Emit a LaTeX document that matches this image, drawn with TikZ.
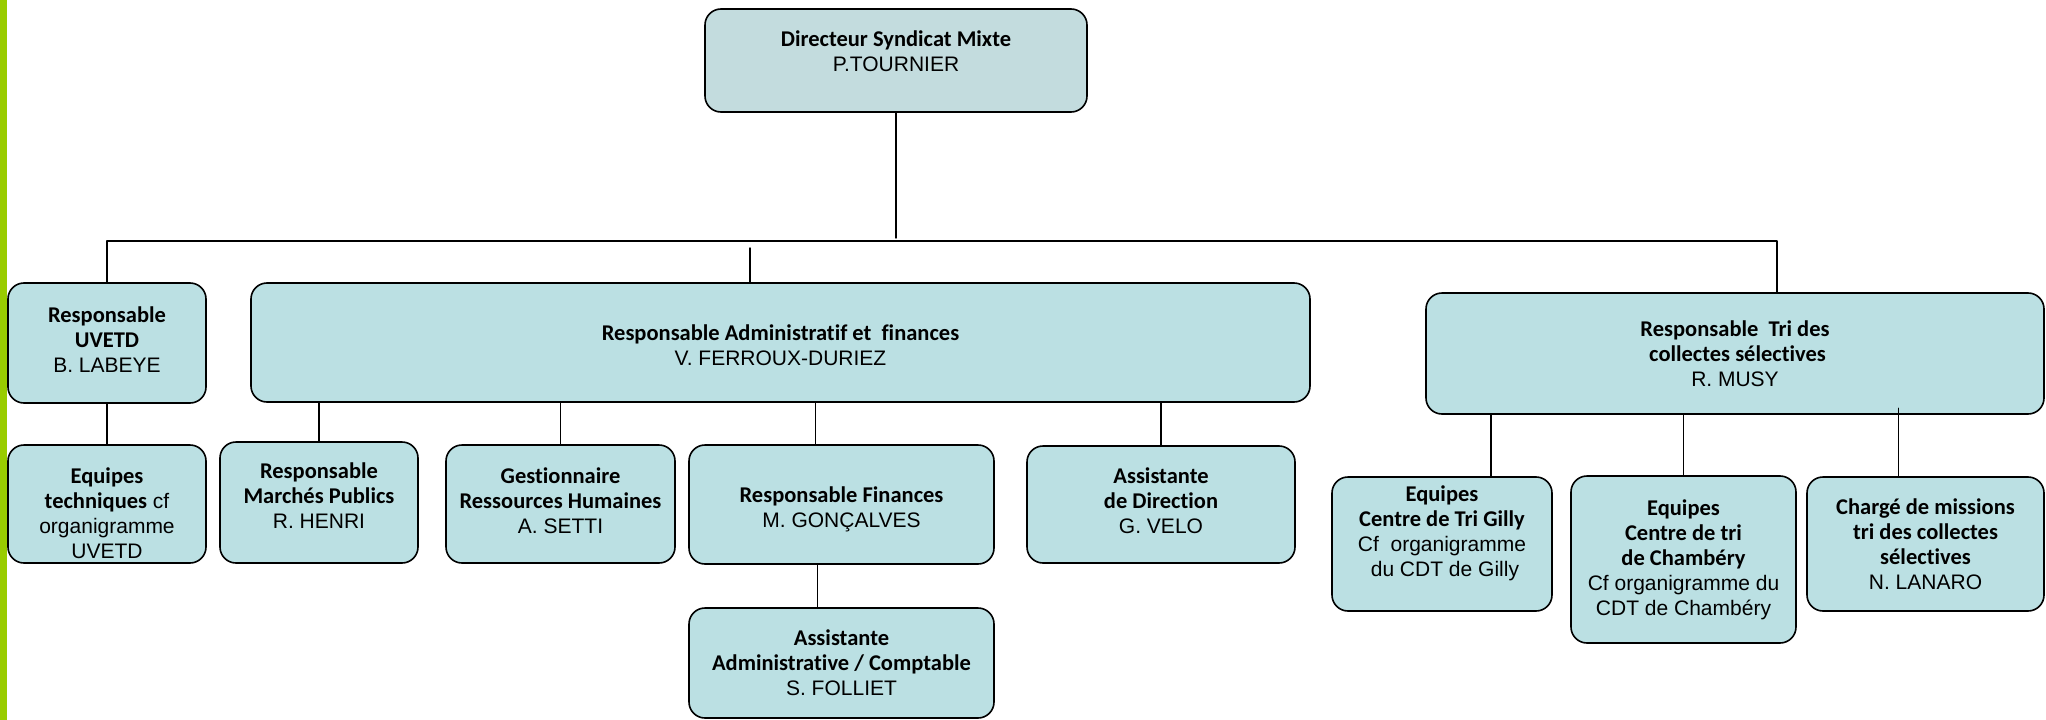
\documentclass[tikz,border=0pt]{standalone}
\usepackage{fontspec}
\setmainfont{Liberation Sans}
\newfontfamily\carlito[Ligatures=NoCommon]{Carlito}
\usetikzlibrary{positioning}
\definecolor{boxfill}{HTML}{BBE0E3}
\definecolor{topfill}{HTML}{C3DCDE}
\definecolor{barcol}{HTML}{99CC00}
\newcommand{\hd}[1]{{\carlito\bfseries\fontsize{22.5}{25}\selectfont #1}}

\begin{document}
\begin{tikzpicture}[x=1pt, y=-1pt, line cap=round, line join=round]
  % styles
  \tikzset{
    post/.style={draw, line width=1.6pt, rounded corners=16pt, fill=boxfill,
      align=center, inner sep=0pt, font=\fontsize{21}{25}\selectfont},
    link/.style={line width=1.4pt}
  }
  \useasboundingbox (0,0) rectangle (2046,720);
  \fill[barcol] (0,0) rectangle (7,720);

  % ----- top -----
  \node[post, fill=topfill, minimum width=382pt, minimum height=103pt] (dir) at (896,60.5)
    {\hd{Directeur Syndicat Mixte}\\P.TOURNIER\\[-6pt]\mbox{}};

  % ----- second level -----
  \node[post, minimum width=198pt, minimum height=120pt] (uvetd) at (107,343)
    {\hd{Responsable}\\\hd{UVETD}\\B. LABEYE\\[-19pt]\mbox{}};
  \node[post, minimum width=1059pt, minimum height=119pt] (admin) at (780.5,342.5)
    {\mbox{}\\[-4.5pt]\hd{Responsable Administratif et\ \ finances}\\V. FERROUX-DURIEZ};
  \node[post, minimum width=618pt, minimum height=121pt] (tri) at (1735,353.5)
    {\hd{Responsable\ \ Tri des}\\\hd{\ collectes s\'electives}\\R. MUSY};

  % ----- third level -----
  \node[post, minimum width=198pt, minimum height=118pt] (eqtech) at (107,504)
    {\mbox{}\\[8.5pt]\hd{Equipes}\\\hd{techniques} cf\\organigramme\\UVETD};
  \node[post, minimum width=198pt, minimum height=121pt] (marches) at (319,502.5)
    {\hd{Responsable}\\\hd{March\'es Publics}\\R. HENRI\\[-12pt]\mbox{}};
  \node[post, minimum width=229pt, minimum height=118pt] (rh) at (560.5,504)
    {\hd{Gestionnaire}\\\hd{Ressources Humaines}\\A. SETTI\\[-19pt]\mbox{}};
  \node[post, minimum width=305pt, minimum height=119pt] (fin) at (841.5,504.5)
    {\mbox{}\\\hd{Responsable Finances}\\M. GONÇALVES};
  \node[post, minimum width=268pt, minimum height=117pt] (assdir) at (1161,504.5)
    {\hd{Assistante}\\\hd{de Direction}\\G. VELO\\[-17pt]\mbox{}};
  \node[post, minimum width=305pt, minimum height=110pt] (compta) at (841.5,663)
    {\hd{Assistante}\\\hd{Administrative / Comptable}\\S. FOLLIET};

  \node[post, minimum width=220pt, minimum height=134pt] (gilly) at (1442,544)
    {\hd{Equipes}\\\hd{Centre de Tri Gilly}\\Cf\ \ organigramme\\\ du CDT de Gilly\\\mbox{}};
  \node[post, minimum width=225pt, minimum height=167pt] (chamb) at (1683.5,559.5)
    {\hd{Equipes}\\\hd{Centre de tri}\\\hd{de Chamb\'ery}\\Cf organigramme du\\CDT de Chamb\'ery};
  \node[post, minimum width=237pt, minimum height=134pt] (charge) at (1925.5,544)
    {\hd{Charg\'e de missions}\\\hd{tri des collectes}\\\hd{s\'electives}\\N. LANARO};

  % ----- connectors -----
  \coordinate (barL) at (107,241);
  \coordinate (barR) at (1777,241);
  \coordinate (dirend) at (896,238);
  \coordinate (admtop) at (750,248);

  \draw[link] (uvetd.north) -- (barL) -- (barR) -- (barR |- tri.north);
  \draw[link] (dir.south) -- (dirend);
  \draw[link] (admtop) -- (admtop |- admin.north);
  \draw[link] (uvetd.south) -- (eqtech.north);
  \foreach \n in {marches,rh,assdir}
    \draw[link] (\n.north) -- (\n.north |- admin.south);
  \draw[link] ([xshift=-26pt]fin.north) -- ([xshift=-26pt]fin.north |- admin.south);
  \draw[link] ([xshift=-24pt]compta.north) -- ([xshift=-24pt]compta.north |- fin.south);
  \draw[link] ([xshift=49pt]gilly.north) -- ([xshift=49pt]gilly.north |- tri.south);
  \draw[link] (chamb.north) -- (chamb.north |- tri.south);
  \draw[link] ([xshift=-27pt]charge.north) -- ++(0,-68);
\end{tikzpicture}
\end{document}
